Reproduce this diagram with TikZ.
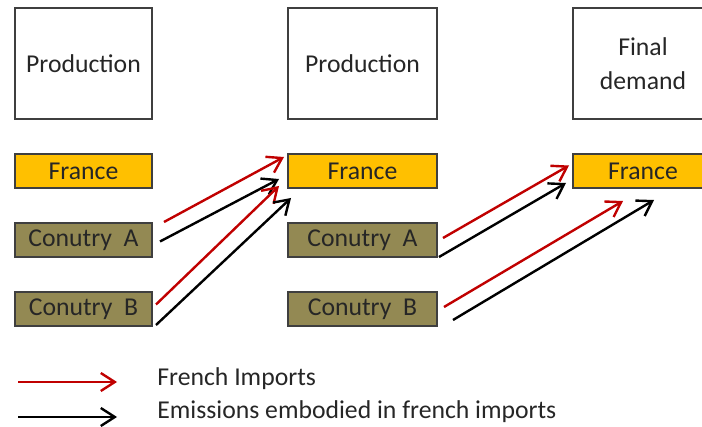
\documentclass[tikz,border=0pt]{standalone}
\usepackage{fontspec}
\setmainfont{Carlito}
\usepackage{tikz}
\usetikzlibrary{positioning, calc, arrows.meta}
\definecolor{boxgold}{HTML}{FFC000}
\definecolor{boxolive}{HTML}{938953}
\definecolor{imred}{HTML}{C00000}
\definecolor{boxedge}{HTML}{3F3F3F}
\tikzstyle{stage} = [rectangle, draw=boxedge, line width=1pt, minimum height=55.5pt, align=center, inner sep=2pt]
\tikzstyle{home} = [rectangle, draw=boxedge, fill=boxgold, line width=1pt, minimum height=17pt, inner sep=0pt]
\tikzstyle{abroad} = [home, fill=boxolive]
\tikzstyle{imp} = [-{Straight Barb[length=7pt,width=9pt]}, line width=1.2pt, draw=imred]
\tikzstyle{emb} = [imp, draw=black]

\begin{document}
\begin{tikzpicture}[x=0.5pt, y=-0.5pt, node distance=16.5pt,
every node/.style={font=\fontsize{12.85}{17}\selectfont, text=black!85}]
\useasboundingbox (0,0) rectangle (702,427);
% first stage
\node[stage, minimum width=68.5pt] (Prod1) at (83.5,63.5) {Production};
\node[home, minimum width=68.5pt, below=of Prod1] (France1) {France};
\node[abroad, minimum width=68.5pt, below=of France1] (CtyA1) {Conutry\ \ A};
\node[abroad, minimum width=68.5pt, below=of CtyA1] (CtyB1) {Conutry\ \ B};
% second stage
\node[stage, minimum width=74.5pt] (Prod2) at (362.5,63.5) {Production};
\node[home, minimum width=74.5pt, below=of Prod2] (France2) {France};
\node[abroad, minimum width=74.5pt, below=of France2] (CtyA2) {Conutry\ \ A};
\node[abroad, minimum width=74.5pt, below=of CtyA2] (CtyB2) {Conutry\ \ B};
% final demand (cut by the right edge)
\node[stage, minimum width=70pt] (Demand) at (643,63.5) {Final\\demand};
\node[home, minimum width=70pt, below=of Demand] (France3) {France};

% flows into french production
\draw[imp] ($(CtyA1.north east)+(11,0)$) -- ($(France2.north west)+(-3,4)$);
\draw[emb] ($(CtyA1.east)+(7,1.5)$) -- ($(France2.south west)+(-8,-10)$);
\draw[imp] ($(CtyB1.east)+(3,-4.5)$) -- ($(France2.south west)+(-8,-3)$);
\draw[emb] ($(CtyB1.south east)+(3,-2)$) -- ($(France2.south west)+(4,9)$);
% flows into french final demand
\draw[imp] ($(CtyA2.east)+(5,-2)$) -- ($(France3.west)+(-3,-5.5)$);
\draw[emb] ($(CtyA2.south east)+(1,-1)$) -- ($(France3.south west)+(-6,-6)$);
\draw[imp] ($(CtyB2.east)+(6,-2)$) -- ($(France3.south west)+(51,12)$);
\draw[emb] ($(CtyB2.east)+(15,11)$) -- ($(France3.south west)+(82,11)$);

% legend
\coordinate (RedFrom) at (18,382);
\coordinate (RedTo) at (117,382);
\coordinate (BlackFrom) at (18,417);
\coordinate (BlackTo) at (117,417);
\draw[imp] (RedFrom) -- (RedTo);
\draw[emb] (BlackFrom) -- (BlackTo);
\node[anchor=west, inner sep=0pt] (RedText) at (157,379) {French Imports};
\node[anchor=west, inner sep=0pt] (BlackText) at (157,412) {Emissions embodied in french imports};
\end{tikzpicture}
\end{document}
